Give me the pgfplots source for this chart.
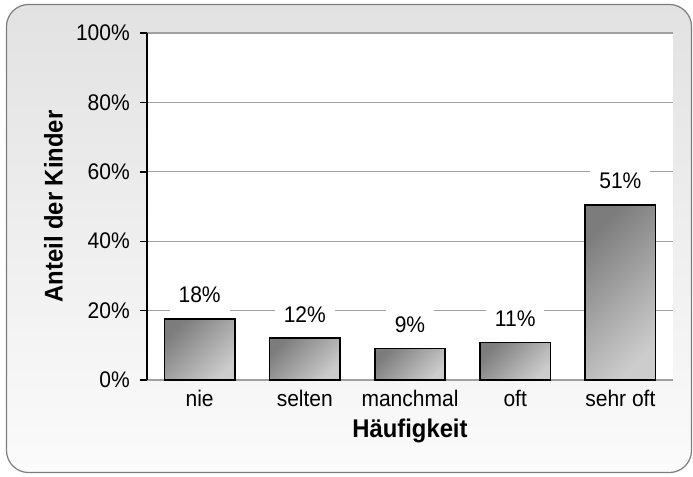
\documentclass[border=0pt]{standalone}
\usepackage{fontspec}
\setmainfont[FakeStretch=0.93]{Liberation Sans}
\usepackage{pgfplots}
\pgfplotsset{compat=1.18}
\definecolor{bgtop}{RGB}{226,226,226}
\definecolor{bgbot}{RGB}{251,251,251}
\definecolor{framec}{RGB}{125,125,125}
\definecolor{gridc}{RGB}{160,160,160}
\definecolor{bardark}{RGB}{124,124,124}
\definecolor{barlight}{RGB}{204,204,204}
\begin{document}
\begin{tikzpicture}
\path[use as bounding box] (0bp,0bp) rectangle (693bp,-477bp);
\draw[rounded corners=22bp, top color=bgtop, bottom color=bgbot, draw=framec, line width=1.2bp] (6.5bp,-4.5bp) rectangle (691.5bp,-472.5bp);
\begin{axis}[
  at={(147bp,-380bp)}, anchor=south west,
  scale only axis, width=526bp, height=347bp,
  xmin=-0.5, xmax=4.5, ymin=0, ymax=100,
  axis background/.style={fill=white},
  axis x line*=bottom, axis y line*=left,
  x axis line style={draw=none},
  y axis line style={black, line width=1.6bp, -},
  ymajorgrids, grid style={gridc, line width=1.2bp},
  ytick={0,20,...,100},
  yticklabel={\pgfmathprintnumber{\tick}\%},
  xtick={0,...,4}, xticklabels={nie,selten,manchmal,oft,sehr oft},
  xtick style={draw=none},
  ytick style={black, line width=1.4bp},
  tick align=outside, major tick length=7bp,
  /pgf/number format/assume math mode=true,
  tick label style={font=\fontsize{22.6bp}{26bp}\selectfont},
  yticklabel style={inner xsep=0pt, xshift=-10bp},
  xticklabel style={anchor=base, yshift=-19.5bp},
  ylabel={Anteil der Kinder},
  ylabel style={at={(axis description cs:-0.1778,0.5)}, anchor=center, rotate=0, font=\bfseries\fontsize{25.6bp}{30bp}\selectfont},
  xlabel={Häufigkeit},
  xlabel style={at={(axis description cs:0.5,-0.1643)}, anchor=base, font=\bfseries\fontsize{25.6bp}{30bp}\selectfont},
  every node near coord/.append style={text=black, font=\fontsize{22.6bp}{26bp}\selectfont, fill=white, inner xsep=9bp, inner ysep=8bp, anchor=south, yshift=7bp},
  barstyle/.style={ybar, bar width=0.67, bar shift=0pt, draw=black, line width=1.6bp, top color=bardark, bottom color=barlight, shading angle=45, nodes near coords, point meta=explicit symbolic},
]
\addplot[barstyle] coordinates {(0,17.6) [18\%]};
\addplot[barstyle] coordinates {(1,12.1) [12\%]};
\addplot[barstyle] coordinates {(2,9.1) [9\%]};
\addplot[barstyle] coordinates {(3,10.8) [11\%]};
\addplot[barstyle] coordinates {(4,50.5) [51\%]};
\end{axis}
\end{tikzpicture}
\end{document}
